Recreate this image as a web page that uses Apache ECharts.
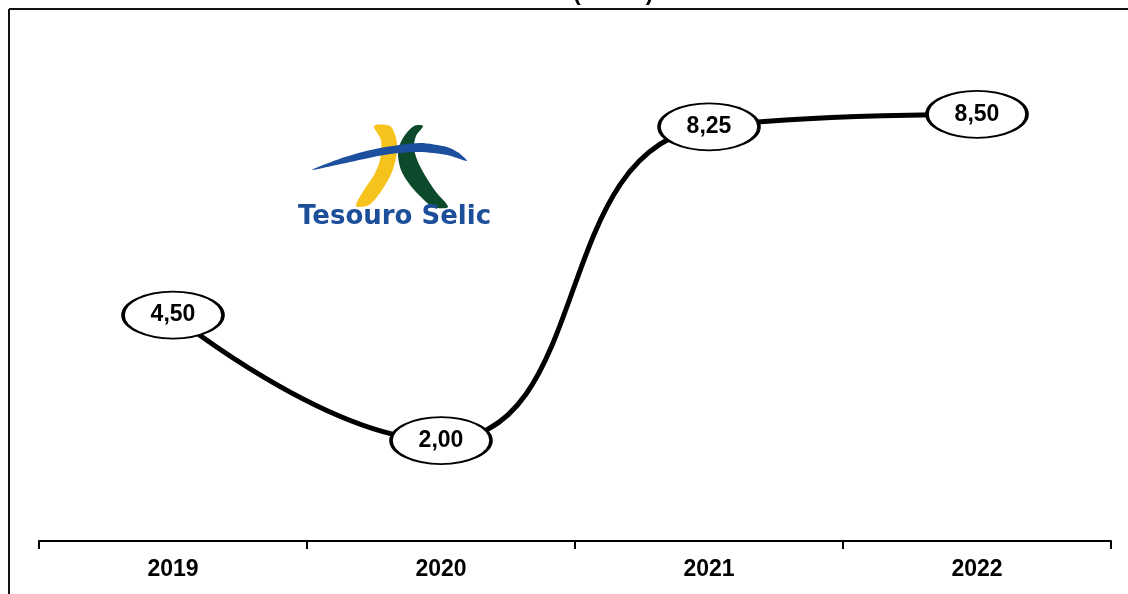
<!DOCTYPE html>
<html>
<head>
<meta charset="utf-8">
<script src="https://cdn.jsdelivr.net/npm/echarts@6/dist/echarts.min.js"></script>
<style>
  html, body { margin: 0; padding: 0; background: #fff; }
  #chart { width: 1128px; height: 594px; }
</style>
</head>
<body>
<div id="chart"></div>
<script>
// Taxa Selic por ano
let anos = ['2019', '2020', '2021', '2022'];
let taxas = [4.50, 2.00, 8.25, 8.50];

let myChart = echarts.init(document.getElementById('chart'));

myChart.setOption({
    animation: false,
    grid: { left: 39, right: 17, top: 39, bottom: 53 },
    xAxis: {
        type: 'category',
        data: anos,
        boundaryGap: true,
        axisLine: { lineStyle: { color: '#000', width: 2 } },
        axisTick: { show: true, length: 8, lineStyle: { color: '#000', width: 2 } },
        axisLabel: {
            margin: 17,
            color: '#000',
            fontFamily: 'Liberation Sans, Arial, sans-serif',
            fontWeight: 'bold',
            fontSize: 23
        }
    },
    yAxis: {
        type: 'value',
        min: 0,
        max: 10,
        show: false,
        splitLine: { show: false }
    },
    series: [{
        type: 'line',
        data: taxas,
        smooth: 0.5,
        symbol: 'circle',
        symbolSize: [100, 47],
        showSymbol: true,
        lineStyle: { color: '#000', width: 5 },
        itemStyle: { color: '#fff', borderColor: '#000', borderWidth: 2.5 },
        label: {
            show: true,
            position: 'inside',
            color: '#000',
            fontFamily: 'Liberation Sans, Arial, sans-serif',
            fontWeight: 'bold',
            fontSize: 23,
            formatter: p => p.value.toFixed(2).replace('.', ',')
        }
    }],
    graphic: [
        // moldura
        { type: 'line', shape: { x1: 9, y1: 9, x2: 1128, y2: 9 }, style: { stroke: '#111', lineWidth: 2 } },
        { type: 'line', shape: { x1: 9, y1: 9, x2: 9, y2: 594 }, style: { stroke: '#111', lineWidth: 2 } },
        // titulo cortado
        {
            type: 'text', left: 573, top: -18,
            style: { text: '(% a.a.)', font: 'bold 23px "Liberation Sans", Arial, sans-serif', fill: '#000' }
        },
        // logo Tesouro Selic
        {
            type: 'polygon',
            shape: {
                points: [[374, 126], [381, 140], [380, 160], [374, 175], [364, 190], [356, 206],
                         [369, 205], [382, 190], [392, 172], [397, 152], [396, 138], [390, 126]],
                smooth: 0.3
            },
            style: { fill: '#f6c21c' }
        },
        {
            type: 'polygon',
            shape: {
                points: [[414, 126], [403, 138], [398, 152], [401, 170], [410, 185], [422, 198], [433, 207],
                         [448, 207], [436, 192], [426, 177], [418, 162], [414, 148], [416, 136], [423, 126]],
                smooth: 0.3
            },
            style: { fill: '#0d4a2c' }
        },
        {
            type: 'polygon',
            shape: {
                points: [[312, 170], [345, 157], [380, 148], [420, 143], [447, 147], [459, 153], [467, 161],
                         [447, 155], [420, 152], [390, 154], [350, 162]],
                smooth: 0.25
            },
            style: { fill: '#1c4f9e' }
        },
        {
            type: 'text', left: 298, top: 204,
            style: { text: 'Tesouro Selic', font: 'bold 26px "DejaVu Sans", sans-serif', fill: '#1d4e9a' }
        }
    ]
});
</script>
</body>
</html>
